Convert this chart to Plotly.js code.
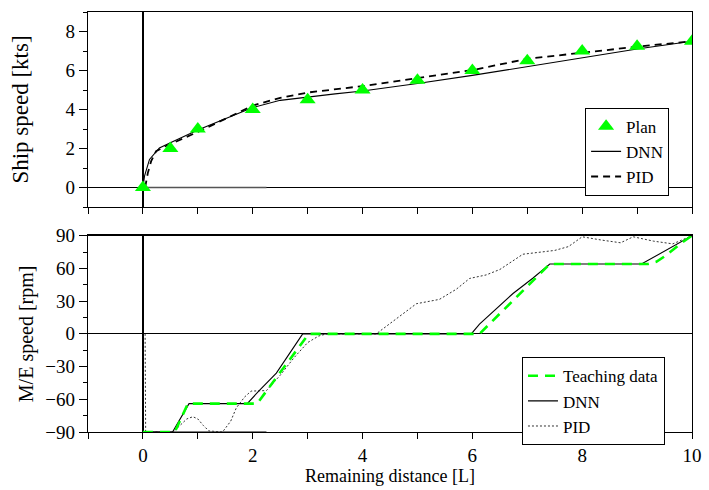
<!DOCTYPE html>
<html>
<head>
<meta charset="utf-8">
<script src="https://cdn.plot.ly/plotly-3.0.1.min.js"></script>
<style>html,body{margin:0;padding:0;background:#fff;}#chart{width:709px;height:490px;}</style>
</head>
<body>
<div id="chart"></div>
<script>
// ---- Top panel: ship speed [kts] ----
const planX = [0, 0.5, 1, 2, 3, 4, 5, 6, 7, 8, 9, 10];
const planY = [0, 2, 3, 4, 4.5, 5, 5.5, 6, 6.5, 7, 7.25, 7.5];

const dnnSpeedX = [0, 0.03, 0.12, 0.3, 0.5, 1, 1.5, 2, 2.5, 3, 3.5, 4, 5, 6, 7, 8, 9, 10];
const dnnSpeedY = [0, 0.6, 1.44, 2.03, 2.3, 2.95, 3.52, 4.1, 4.47, 4.65, 4.8, 4.95, 5.33, 5.75, 6.2, 6.65, 7.1, 7.5];

const pidSpeedX = [0.04, 0.06, 0.09, 0.15, 0.24, 0.4, 0.6, 1, 1.5, 2, 2.5, 3, 4, 5, 6, 7, 8, 9, 10];
const pidSpeedY = [0, 0.3, 0.75, 1.35, 1.86, 2.1, 2.35, 2.85, 3.52, 4.2, 4.6, 4.87, 5.2, 5.62, 6.02, 6.6, 6.92, 7.22, 7.5];

const baseSpeedX = [0, 2.25];
const baseSpeedY = [0, 0];

// ---- Bottom panel: M/E speed [rpm] ----
const teachX = [0, 0.58, 0.82, 2.08, 3.02, 6.13, 7.41, 9.2, 9.35, 9.5, 9.84, 10];
const teachY = [-90, -90, -64, -64, 0, 0, 64, 64, 66, 71, 84.5, 90];

const dnnRpmX = [0, 0.54, 0.84, 1.9, 2.1, 2.43, 2.91, 5.98, 6.13, 6.74, 7.1, 7.41, 9.08, 9.53, 10];
const dnnRpmY = [-90, -90, -64, -64, -53, -36, 0, 0, 9, 37, 51, 64, 64, 77, 90];

const pidRpmX = [0.04, 0.05, 0.55, 0.7, 0.8, 0.91, 1.0, 1.1, 1.2, 1.45, 1.6, 1.7, 1.85, 1.97, 2.25, 2.5, 2.75, 3.0, 3.2, 3.35, 4.25, 4.98, 5.4, 5.71, 5.95, 6.25, 6.5, 6.92, 7.5, 7.75, 8.0, 8.35, 8.7, 8.93, 9.3, 9.65, 10];
const pidRpmY = [0, -90, -90, -83, -78, -76, -78, -84, -89, -90, -80, -68, -58, -52.5, -52, -38, -22, -8, -2, 0, 0, 27.6, 31.6, 41, 50.8, 54, 59, 73, 76.5, 80, 89, 86, 83.5, 89, 85, 82.5, 90];

const baseRpmX = [0, 2.25];
const baseRpmY = [-90, -90];

// ---- Axis ticks ----
const xTickVals = [-1, 0, 1, 2, 3, 4, 5, 6, 7, 8, 9, 10];
const xTickText = ['', '0', '', '2', '', '4', '', '6', '', '8', '', '10'];
const xTitle = 'Remaining distance [L]';
const ySpeedTitle = 'Ship speed [kts]';
const yRpmTitle = 'M/E speed [rpm]';

const FONT = 'Liberation Serif';
const GREEN = '#00ff00';

const traces = [
  {x: baseSpeedX, y: baseSpeedY, xaxis: 'x', yaxis: 'y', mode: 'lines', line: {color: '#555', width: 1.6}, showlegend: false, hoverinfo: 'skip'},
  {x: dnnSpeedX, y: dnnSpeedY, xaxis: 'x', yaxis: 'y', mode: 'lines', name: 'DNN', line: {color: '#000', width: 1.1}, legend: 'legend', legendrank: 2},
  {x: pidSpeedX, y: pidSpeedY, xaxis: 'x', yaxis: 'y', mode: 'lines', name: 'PID', line: {color: '#000', width: 1.8, dash: '7px,5px'}, legend: 'legend', legendrank: 3},
  {x: planX, y: planY, xaxis: 'x', yaxis: 'y', mode: 'markers', name: 'Plan', marker: {symbol: 'triangle-up', size: 14, color: GREEN}, legend: 'legend', legendrank: 1},

  {x: baseRpmX, y: baseRpmY, xaxis: 'x2', yaxis: 'y2', mode: 'lines', line: {color: '#555', width: 1.6}, showlegend: false, hoverinfo: 'skip'},
  {x: pidRpmX, y: pidRpmY, xaxis: 'x2', yaxis: 'y2', mode: 'lines', name: 'PID', line: {color: '#333', width: 1, dash: '2px,2px'}, legend: 'legend2', legendrank: 3},
  {x: dnnRpmX, y: dnnRpmY, xaxis: 'x2', yaxis: 'y2', mode: 'lines', name: 'DNN', line: {color: '#000', width: 1.1}, legend: 'legend2', legendrank: 2},
  {x: teachX, y: teachY, xaxis: 'x2', yaxis: 'y2', mode: 'lines', name: 'Teaching data', line: {color: GREEN, width: 2.6, dash: '10px,7px'}, legend: 'legend2', legendrank: 1}
];

const axisCommon = {
  showline: true, mirror: true, linecolor: '#000', linewidth: 1.2,
  showgrid: false, zeroline: true, zerolinecolor: '#000', zerolinewidth: 1.2,
  ticks: 'outside', tickcolor: '#000',
  tickfont: {family: FONT, size: 19, color: '#000'}
};

const legendCommon = {
  xanchor: 'left', yanchor: 'top',
  bgcolor: '#fff', bordercolor: '#000', borderwidth: 1,
  font: {family: FONT, size: 17, color: '#000'}, tracegroupgap: 0
};

const layout = {
  width: 709, height: 490,
  paper_bgcolor: '#fff', plot_bgcolor: '#fff',
  margin: {l: 88, r: 17, t: 12, b: 58},
  font: {family: FONT, color: '#000'},
  xaxis: Object.assign({}, axisCommon, {
    anchor: 'y', domain: [0, 1], range: [-1, 10], tickmode: 'array',
    tickvals: xTickVals, ticktext: xTickText, showticklabels: false, ticklen: 6
  }),
  yaxis: Object.assign({}, axisCommon, {
    anchor: 'x', domain: [0.5357, 1], range: [-1, 9], dtick: 2, tick0: 0, ticklen: 8,
    minor: {dtick: 1, tick0: 0, ticks: 'outside', ticklen: 4, tickcolor: '#000', showgrid: false},
    title: {text: ySpeedTitle, font: {family: FONT, size: 23, color: '#000'}, standoff: 30}
  }),
  xaxis2: Object.assign({}, axisCommon, {
    anchor: 'y2', domain: [0, 1], range: [-1, 10], tickmode: 'array',
    tickvals: xTickVals, ticktext: xTickText, ticklen: 6,
    title: {text: xTitle, font: {family: FONT, size: 18, color: '#000'}, standoff: 4}
  }),
  yaxis2: Object.assign({}, axisCommon, {
    anchor: 'x2', domain: [0, 0.4674], range: [-90, 90], dtick: 30, tick0: 0, ticklen: 8,
    minor: {dtick: 15, tick0: 0, ticks: 'outside', ticklen: 4, tickcolor: '#000', showgrid: false},
    title: {text: yRpmTitle, font: {family: FONT, size: 20, color: '#000'}, standoff: 6}
  }),
  legend: Object.assign({}, legendCommon, {x: 0.823, y: 0.772}),
  legend2: Object.assign({}, legendCommon, {x: 0.7185, y: 0.178}),
  showlegend: true
};

Plotly.newPlot('chart', traces, layout, {displayModeBar: false, staticPlot: true});
</script>
</body>
</html>
